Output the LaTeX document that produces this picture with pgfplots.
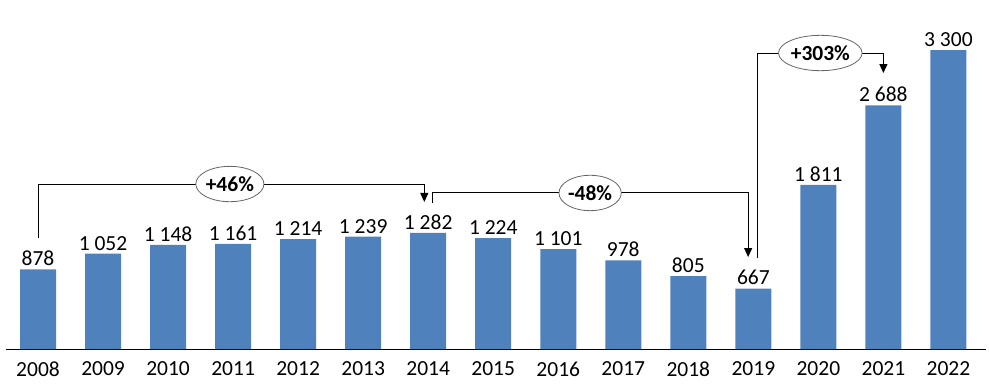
\documentclass[border=0pt]{standalone}
\usepackage{fontspec}
\setmainfont{Carlito}
\usepackage{pgfplots}
\pgfplotsset{compat=1.18}
\usetikzlibrary{shapes.geometric,arrows.meta}
\definecolor{barblue}{HTML}{4F81BD}
\begin{document}
\begin{tikzpicture}[x=1pt,y=1pt]
\begin{axis}[
  at={(0pt,0pt)}, anchor=south west,
  scale only axis, width=980pt, height=349pt,
  xmin=-0.5, xmax=14.57, ymin=0, ymax=3852,
  axis x line=bottom, axis y line=none,
  x axis line style={-, line width=1pt, black},
  xtick={0,...,14}, xticklabels={2008,2009,2010,2011,2012,2013,2014,2015,2016,2017,2018,2019,2020,2021,2022},
  major tick length=0pt,
  xticklabel style={font=\fontsize{21.5}{24}\selectfont, yshift=-9pt},
  ybar, bar width=36pt,
  nodes near coords, point meta=explicit symbolic,
  every node near coord/.append style={font=\fontsize{21.5}{24}\selectfont, text=black},
  clip=false,
]
\addplot[fill=barblue, draw=none] coordinates {
 (0,878) [878] (1,1052) [1 052] (2,1148) [1 148] (3,1161) [1 161] (4,1214) [1 214]
 (5,1239) [1 239] (6,1282) [1 282] (7,1224) [1 224] (8,1101) [1 101] (9,978) [978]
 (10,805) [805] (11,667) [667] (12,1811) [1 811] (13,2688) [2 688] (14,3300) [3 300]
};
\tikzset{ann/.style={line width=1pt, -{Triangle[length=9pt,width=8pt]}},
  pct/.style={ellipse, draw=black!60, line width=0.8pt, fill=white, inner xsep=0pt, inner ysep=5pt, font=\fontsize{21.5}{24}\selectfont\bfseries}}
\draw[ann] (axis cs:0,1225) -- (axis cs:0,1821) -- (axis cs:5.94,1821) -- (axis cs:5.94,1623);
\node[pct] at (axis cs:2.95,1821) {+46\%};
\draw[ann] (axis cs:6.06,1611) -- (axis cs:6.06,1722) -- (axis cs:10.92,1722) -- (axis cs:10.92,1015);
\node[pct] at (axis cs:8.49,1722) {-48\%};
\draw[ann] (axis cs:11.06,1004) -- (axis cs:11.06,3267) -- (axis cs:13.0,3267) -- (axis cs:13.0,3046);
\node[pct] at (axis cs:12.03,3267) {+303\%};
\end{axis}
\pgfresetboundingbox
\path[use as bounding box] (-5.5pt,-37pt) rectangle (983.5pt,349pt);
\end{tikzpicture}
\end{document}
